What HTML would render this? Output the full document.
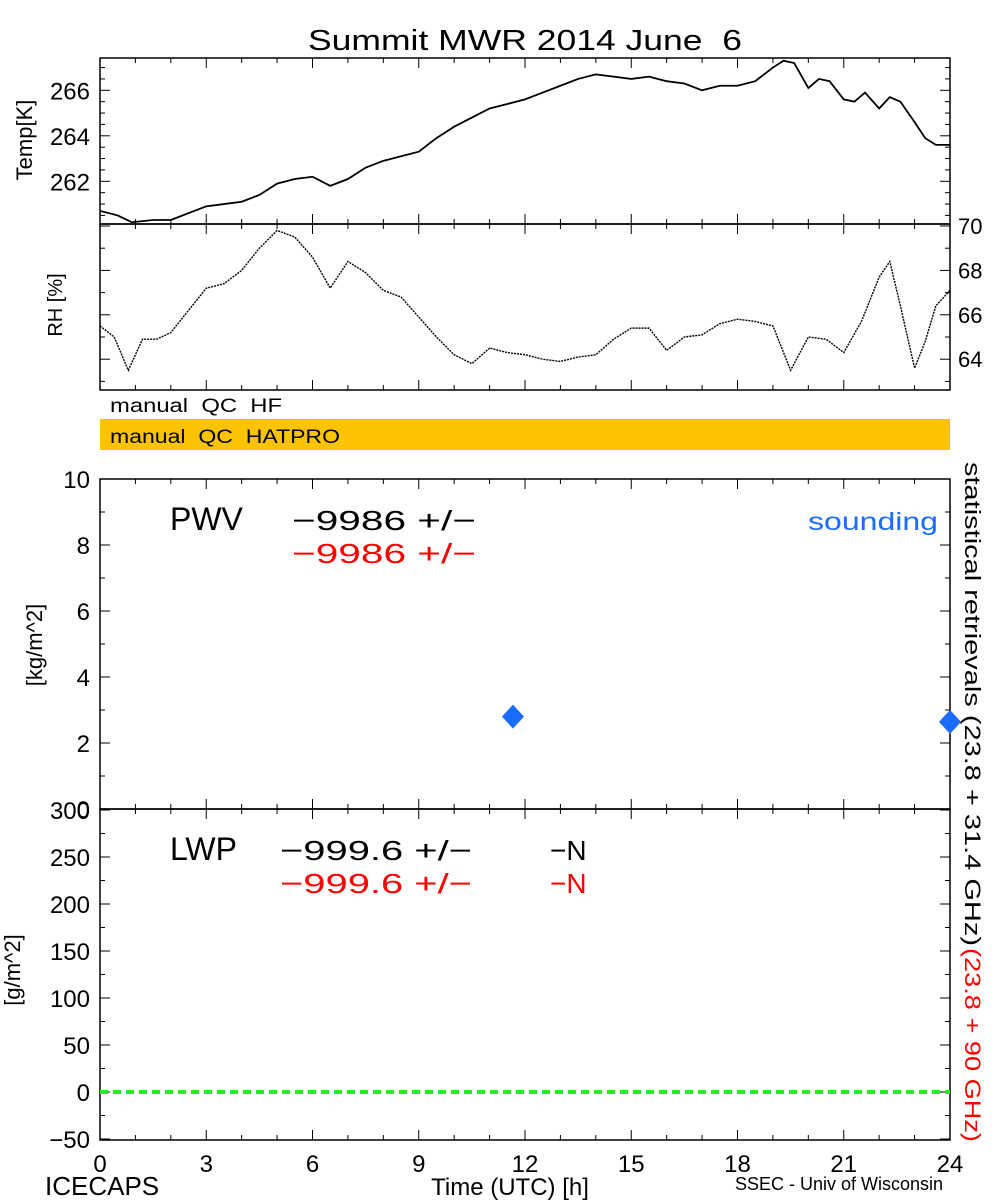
<!DOCTYPE html>
<html><head><meta charset="utf-8"><style>
html,body{margin:0;padding:0;background:#fff}
svg{display:block}
text{font-family:"Liberation Sans",sans-serif}
</style></head><body>
<svg id="c" width="1000" height="1200" viewBox="0 0 1000 1200" xmlns="http://www.w3.org/2000/svg">
<text x="308" y="50" font-size="29" textLength="434" lengthAdjust="spacingAndGlyphs">Summit MWR 2014 June&#160;&#160;6</text>
<rect x="100" y="419" width="850" height="31" fill="#fcc400"/>
<text x="110" y="412" font-size="19" textLength="172" lengthAdjust="spacingAndGlyphs">manual&#160;&#160;QC&#160;&#160;HF</text>
<text x="110" y="443" font-size="19" textLength="230" lengthAdjust="spacingAndGlyphs">manual&#160;&#160;QC&#160;&#160;HATPRO</text>
<text transform="translate(32,140) rotate(-90)" font-size="22" text-anchor="middle">Temp[K]</text>
<text transform="translate(62,305) rotate(-90)" font-size="20" text-anchor="middle">RH [%]</text>
<text transform="translate(42,645) rotate(-90)" font-size="22" text-anchor="middle">[kg/m^2]</text>
<text transform="translate(20,970) rotate(-90)" font-size="22" text-anchor="middle">[g/m^2]</text>
<text transform="translate(965,462) rotate(90)" font-size="22" textLength="484" lengthAdjust="spacingAndGlyphs">statistical retrievals (23.8 + 31.4 GHz)</text>
<text transform="translate(965,948) rotate(90)" font-size="22" fill="#ff0000" textLength="194" lengthAdjust="spacingAndGlyphs">(23.8 + 90 GHz)</text>
<text x="170" y="530" font-size="32">PWV</text>
<text x="292" y="530" font-size="28" textLength="184" lengthAdjust="spacingAndGlyphs">−9986 +/−</text>
<text x="292" y="563" font-size="28" fill="#ff0000" textLength="184" lengthAdjust="spacingAndGlyphs">−9986 +/−</text>
<text x="808" y="530" font-size="25" fill="#1a6cff" textLength="130" lengthAdjust="spacingAndGlyphs">sounding</text>
<text x="170" y="860" font-size="32">LWP</text>
<text x="280" y="860" font-size="28" textLength="192" lengthAdjust="spacingAndGlyphs">−999.6 +/−</text>
<text x="550" y="860" font-size="28">−N</text>
<text x="280" y="893" font-size="28" fill="#ff0000" textLength="192" lengthAdjust="spacingAndGlyphs">−999.6 +/−</text>
<text x="550" y="893" font-size="28" fill="#ff0000">−N</text>
<text x="45" y="1195" font-size="26">ICECAPS</text>
<text x="510" y="1195" font-size="24" text-anchor="middle">Time (UTC) [h]</text>
<text x="735" y="1190" font-size="18">SSEC - Univ of Wisconsin</text>
</svg>
<script>
const tempT=[0,0.5,0.9,1.5,2,2.5,3,3.5,4,4.5,5,5.5,6,6.5,7,7.5,8,8.5,9,9.5,10,10.5,11,11.5,12,12.5,13,13.5,14,14.5,15,15.5,16,16.5,17,17.5,18,18.5,19,19.3,19.6,20,20.3,20.6,21,21.3,21.6,22,22.3,22.6,23,23.3,23.6,24];
const tempV=[260.7,260.5,260.2,260.3,260.3,260.6,260.9,261.0,261.1,261.4,261.9,262.1,262.2,261.8,262.1,262.6,262.9,263.1,263.3,263.9,264.4,264.8,265.2,265.4,265.6,265.9,266.2,266.5,266.7,266.6,266.5,266.6,266.4,266.3,266.0,266.2,266.2,266.4,267.0,267.3,267.2,266.1,266.5,266.4,265.6,265.5,265.9,265.2,265.7,265.5,264.6,263.9,263.6,263.6];
const rhT=[0,0.4,0.8,1.2,1.6,2,2.5,3,3.5,4,4.5,5,5.5,6,6.5,7,7.5,8,8.5,9,9.5,10,10.5,11,11.5,12,12.5,13,13.5,14,14.5,15,15.5,16,16.5,17,17.5,18,18.5,19,19.5,20,20.5,21,21.5,22,22.3,22.6,23,23.3,23.6,24];
const rhV=[65.5,65.0,63.5,64.9,64.9,65.2,66.2,67.2,67.4,68.0,69.0,69.8,69.5,68.6,67.2,68.4,67.9,67.1,66.8,65.9,65.0,64.2,63.8,64.5,64.3,64.2,64.0,63.9,64.1,64.2,64.9,65.4,65.4,64.4,65.0,65.1,65.6,65.8,65.7,65.5,63.5,65.0,64.9,64.3,65.7,67.7,68.4,66.4,63.6,64.8,66.4,67.1];
const sondeT=[11.66,24.0];
const sondeV=[2.8,2.64];
const xTicks=[0,3,6,9,12,15,18,21,24];
const tempTicks=[262,264,266];
const rhTicks=[64,66,68,70];
const pwvTicks=[0,2,4,6,8,10];
const lwpTicks=[-50,0,50,100,150,200,250,300];
const lwpZero=[0];

const NS="http://www.w3.org/2000/svg",svg=document.getElementById('c');
const X0=100,X1=950;
const xs=h=>X0+(X1-X0)*h/24;
const yT=v=>90.3-(v-266)*22.75;
const yRH=v=>226+(70-v)*22.2;
const yP=v=>809-v*33;
const yL=v=>1092-v*0.94;
function el(t,a,p){const e=document.createElementNS(NS,t);for(const k in a)e.setAttribute(k,a[k]);(p||svg).appendChild(e);return e;}
const panels=[[58,224,'temp'],[224,390,'rh'],[479,809,'pwv'],[809,1140,'lwp']];
panels.forEach(p=>{
  const r=el('rect',{x:X0,y:p[0],width:X1-X0,height:p[1]-p[0],fill:'none',stroke:'#000','stroke-width':1.5});
  
  
  for(let h=0;h<=24;h++){
    const L=h%3===0?10:5;
    const t1=el('line',{x1:xs(h),x2:xs(h),y1:p[1],y2:p[1]-L,stroke:'#000'});
    
    
    const t2=el('line',{x1:xs(h),x2:xs(h),y1:p[0],y2:p[0]+L,stroke:'#000'});
    
    
  }
});
function yAxis(ticks,fn,minor,lo,hi,left,fs,name,yoff){
  for(let v=lo;v<=hi+1e-9;v+=minor){
    const y=fn(v),major=ticks.some(t=>Math.abs(t-v)<1e-9),L=major?10:5;
    const a=el('line',{x1:X0,x2:X0+L,y1:y,y2:y,stroke:'#000'});
    
    
    const b=el('line',{x1:X1,x2:X1-L,y1:y,y2:y,stroke:'#000'});
    
    
  }
  ticks.forEach(v=>{
    const t=el('text',{x:left?90:958,y:fn(v)+yoff,'font-size':fs,'text-anchor':left?'end':'start'});
    t.textContent=String(v).replace('-','−');
    
    
  });
}
yAxis(tempTicks,yT,0.5,260.5,267,true,24,'temp',9);
yAxis(rhTicks,yRH,1,63,70,false,22,'rh',8);
yAxis(pwvTicks,yP,1,0,10,true,24,'pwv',9);
yAxis(lwpTicks,yL,25,-50,300,true,24,'lwp',9);
xTicks.forEach(h=>{
  const t=el('text',{x:xs(h),y:1172,'font-size':24,'text-anchor':'middle'});
  t.textContent=h;
  
  
});
const tl=el('polyline',{points:tempT.map((t,i)=>xs(t)+','+yT(tempV[i])).join(' '),fill:'none',stroke:'#000','stroke-width':1.8});


const rl=el('polyline',{points:rhT.map((t,i)=>xs(t)+','+yRH(rhV[i])).join(' '),fill:'none',stroke:'#000','stroke-width':1.4,'stroke-dasharray':'2 1'});


sondeT.forEach((t,i)=>{
  const x=xs(t),y=yP(sondeV[i]);
  const d=el('polygon',{points:`${x},${y-12} ${x+11},${y} ${x},${y+12} ${x-11},${y}`,fill:'#1a6cff'});
  
  
});
lwpZero.forEach(v=>{
  const l=el('line',{x1:X0,x2:X1,y1:yL(v),y2:yL(v),stroke:'#22ee22','stroke-width':4,'stroke-dasharray':'8 5'});
  
  
});
</script>
</body></html>
